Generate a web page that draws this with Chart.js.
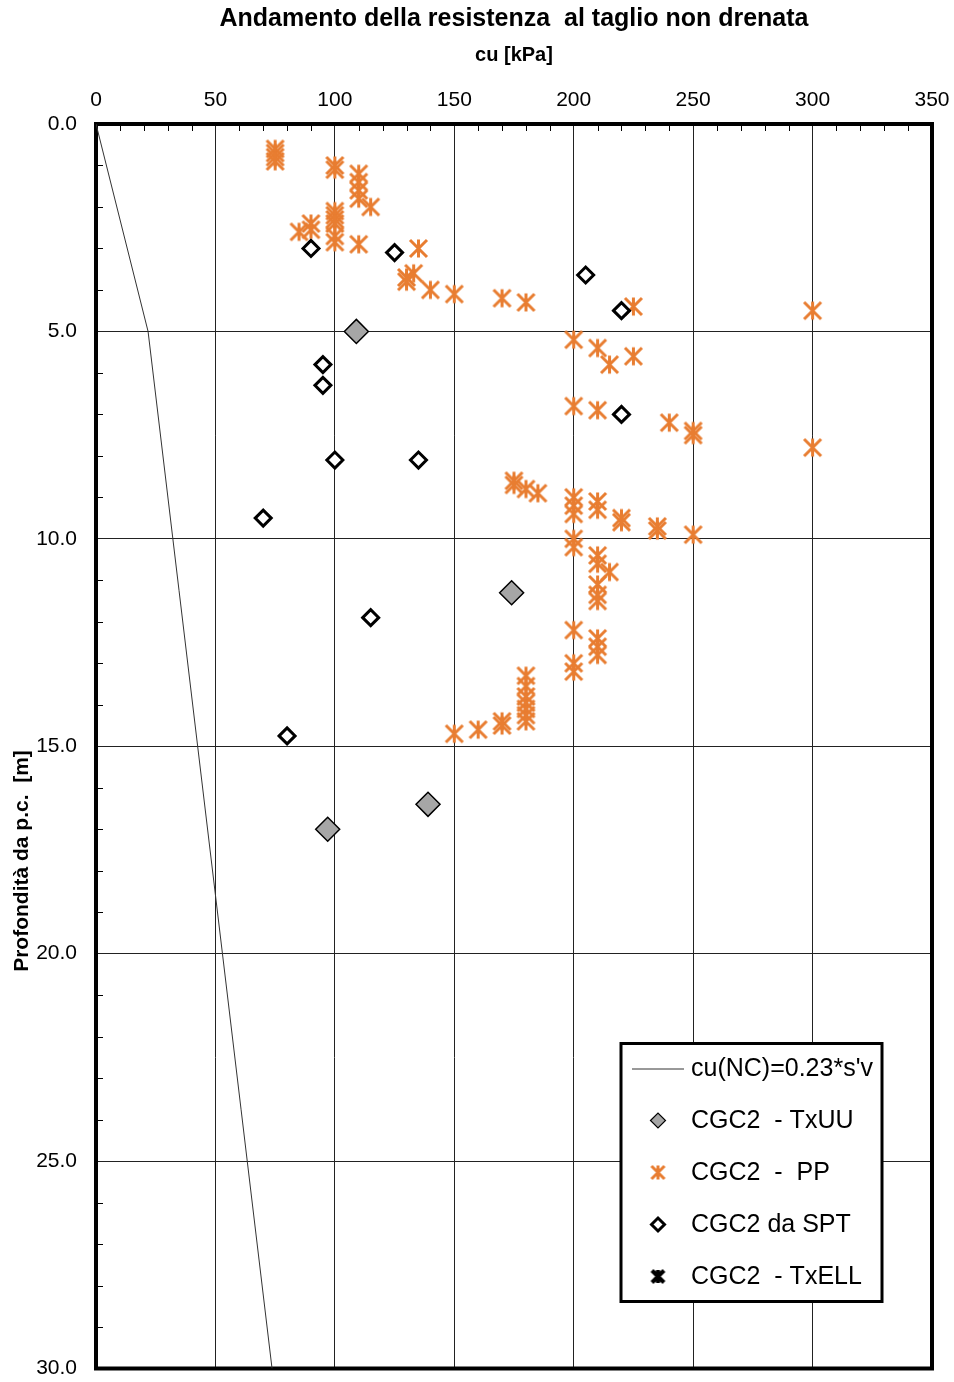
<!DOCTYPE html>
<html lang="it">
<head>
<meta charset="utf-8">
<title>Andamento della resistenza al taglio non drenata</title>
<script src="https://cdn.jsdelivr.net/npm/chart.js@4/dist/chart.umd.min.js"></script>
<style>
  html, body { margin: 0; padding: 0; background: #fff; }
  canvas { display: block; }
</style>
</head>
<body>
<canvas id="cuChart" width="954" height="1382"></canvas>
<script>
// cu(NC) = 0.23 * s'v reference line
const ncCu = [0, 21.8, 73.7];
const ncDepth = [0, 5, 30];

// CGC2 - TxUU
const uuCu = [109, 174, 139, 97];
const uuDepth = [5.0, 11.3, 16.4, 17.0];

// CGC2 - PP (pocket penetrometer)
const ppCu = [
    75, 75, 75, 75, 100, 100, 110, 110, 110, 110, 115,
    100, 100, 100, 100, 90, 90, 85, 100, 100, 110, 135,
    133, 130, 130, 140, 150, 170, 180, 225, 300,
    200, 210, 225, 215, 200, 210, 240, 250, 250, 300,
    175, 175, 180, 185, 200, 200, 200, 210, 210, 220, 220, 235, 235, 250,
    200, 200, 210, 210, 210, 210, 210, 215,
    200, 210, 210, 210, 200, 200,
    180, 180, 180, 180, 180, 180, 180, 170, 170, 160, 150
];
const ppDepth = [
    0.6, 0.7, 0.8, 0.9, 1.0, 1.1, 1.2, 1.4, 1.6, 1.8, 2.0,
    2.1, 2.2, 2.3, 2.4, 2.4, 2.55, 2.6, 2.7, 2.85, 2.9, 3.0,
    3.6, 3.7, 3.8, 4.0, 4.1, 4.2, 4.3, 4.4, 4.5,
    5.2, 5.4, 5.6, 5.8, 6.8, 6.9, 7.2, 7.4, 7.5, 7.8,
    8.6, 8.7, 8.8, 8.9, 9.0, 9.2, 9.4, 9.1, 9.3, 9.5, 9.6, 9.7, 9.8, 9.9,
    10.0, 10.2, 10.4, 10.6, 11.1, 11.35, 11.5, 10.8,
    12.2, 12.4, 12.6, 12.8, 13.0, 13.2,
    13.3, 13.55, 13.8, 13.95, 14.1, 14.25, 14.4, 14.4, 14.5, 14.6, 14.7
];

// CGC2 da SPT
const sptCu = [90, 125, 205, 220, 95, 95, 220, 100, 135, 70, 115, 80];
const sptDepth = [3.0, 3.1, 3.64, 4.5, 5.8, 6.3, 7.0, 8.1, 8.1, 9.5, 11.9, 14.75];

// CGC2 - TxELL (no tests in this profile)
const ellCu = [];
const ellDepth = [];

const cuMax = 350;
const depthMax = 30;

const ORANGE = '#E87D31';
const GREY = '#A6A6A6';
const FONT = '"Liberation Sans", Arial, Helvetica, sans-serif';

function toPoints(xs, ys) {
    return xs.map((v, i) => ({x: v, y: ys[i]}));
}

// six-armed asterisk marker (X plus vertical bar)
function makeAsterisk(size, color, lw) {
    const c = document.createElement('canvas');
    c.width = size;
    c.height = size;
    const g = c.getContext('2d');
    const p = lw / 2 + 0.5;
    const m = size / 2;
    g.strokeStyle = color;
    g.lineWidth = lw;
    g.beginPath();
    g.moveTo(p, p); g.lineTo(size - p, size - p);
    g.moveTo(size - p, p); g.lineTo(p, size - p);
    g.moveTo(m, p - 0.5); g.lineTo(m, size - p + 0.5);
    g.stroke();
    return c;
}

const ppMark = makeAsterisk(21, ORANGE, 3);
const ppLegendMark = makeAsterisk(17, ORANGE, 3);
const ellMark = makeAsterisk(21, '#000', 4);
const ellLegendMark = makeAsterisk(17, '#000', 4);

function drawDiamond(ctx, cx, cy, r, fill, stroke, lw) {
    ctx.beginPath();
    ctx.moveTo(cx - r, cy);
    ctx.lineTo(cx, cy - r);
    ctx.lineTo(cx + r, cy);
    ctx.lineTo(cx, cy + r);
    ctx.closePath();
    ctx.fillStyle = fill;
    ctx.fill();
    ctx.lineWidth = lw;
    ctx.strokeStyle = stroke;
    ctx.stroke();
}

// legend swatches, same order as the datasets
const legendMarks = [
    (ctx, cx, cy) => {
        ctx.beginPath();
        ctx.moveTo(cx - 26, cy + 0.5);
        ctx.lineTo(cx + 26, cy + 0.5);
        ctx.lineWidth = 1;
        ctx.strokeStyle = '#333';
        ctx.stroke();
    },
    (ctx, cx, cy) => drawDiamond(ctx, cx, cy, 7.5, GREY, '#000', 1.2),
    (ctx, cx, cy) => ctx.drawImage(ppLegendMark, cx - 8.5, cy - 8.5),
    (ctx, cx, cy) => drawDiamond(ctx, cx, cy, 6.5, '#fff', '#000', 3),
    (ctx, cx, cy) => ctx.drawImage(ellLegendMark, cx - 8.5, cy - 8.5),
];

const framePlugin = {
    id: 'frame',
    beforeDatasetsDraw(chart) {
        const {ctx, chartArea: a, scales: {x, y}} = chart;
        ctx.save();
        ctx.strokeStyle = '#000';
        ctx.lineWidth = 1;
        ctx.beginPath();
        for (let v = 10; v < cuMax; v += 10) {
            if (v % 50 === 0) continue;
            const px = Math.round(x.getPixelForValue(v)) + 0.5;
            ctx.moveTo(px, a.top);
            ctx.lineTo(px, a.top + 7);
        }
        for (let d = 1; d < depthMax; d++) {
            if (d % 5 === 0) continue;
            const py = Math.round(y.getPixelForValue(d)) + 0.5;
            ctx.moveTo(a.left, py);
            ctx.lineTo(a.left + 7, py);
        }
        ctx.stroke();
        ctx.lineWidth = 4;
        ctx.strokeRect(a.left, a.top, a.right - a.left, a.bottom - a.top);
        ctx.restore();
    },
    afterDraw(chart) {
        const {ctx, chartArea: a} = chart;
        ctx.save();

        // depth axis title, placed lower than the axis centre
        ctx.translate(22, a.top + 737);
        ctx.rotate(-Math.PI / 2);
        ctx.font = 'bold 21px ' + FONT;
        ctx.fillStyle = '#000';
        ctx.textAlign = 'center';
        ctx.textBaseline = 'middle';
        ctx.fillText('Profondità da p.c.  [m]', 0, 0);
        ctx.setTransform(1, 0, 0, 1, 0, 0);

        // legend box in the lower right corner
        const bx = a.right - 311, by = a.bottom - 325, bw = 261, bh = 258;
        ctx.fillStyle = '#fff';
        ctx.fillRect(bx, by, bw, bh);
        ctx.lineWidth = 3;
        ctx.strokeStyle = '#000';
        ctx.strokeRect(bx, by, bw, bh);

        ctx.font = '25px ' + FONT;
        ctx.textAlign = 'left';
        ctx.textBaseline = 'middle';
        chart.data.datasets.forEach((ds, i) => {
            const cy = by + 25 + i * 52;
            legendMarks[i](ctx, bx + 37, cy);
            ctx.fillStyle = '#000';
            ctx.fillText(ds.label, bx + 70, cy + 1);
        });
        ctx.restore();
    }
};

Chart.defaults.font.family = FONT;
Chart.defaults.color = '#000';

new Chart(document.getElementById('cuChart'), {
    type: 'scatter',
    data: {
        datasets: [
            {
                label: "cu(NC)=0.23*s'v",
                data: toPoints(ncCu, ncDepth),
                showLine: true,
                borderColor: '#333',
                borderWidth: 1,
                pointRadius: 0,
                order: 4,
            },
            {
                label: 'CGC2  - TxUU',
                data: toPoints(uuCu, uuDepth),
                pointStyle: 'rectRot',
                pointRadius: 12,
                backgroundColor: GREY,
                borderColor: '#000',
                borderWidth: 1.5,
                order: 2,
            },
            {
                label: 'CGC2  -  PP',
                data: toPoints(ppCu, ppDepth),
                pointStyle: ppMark,
                order: 3,
            },
            {
                label: 'CGC2 da SPT',
                data: toPoints(sptCu, sptDepth),
                pointStyle: 'rectRot',
                pointRadius: 8,
                backgroundColor: '#fff',
                borderColor: '#000',
                borderWidth: 3,
                order: 1,
            },
            {
                label: 'CGC2  - TxELL',
                data: toPoints(ellCu, ellDepth),
                pointStyle: ellMark,
                order: 5,
            },
        ],
    },
    options: {
        responsive: false,
        animation: false,
        events: [],
        layout: {
            padding: {left: 0, right: 22, top: 0, bottom: 13},
        },
        plugins: {
            legend: {display: false},
            tooltip: {enabled: false},
            title: {
                display: true,
                fullSize: false,
                text: 'Andamento della resistenza  al taglio non drenata',
                font: {size: 25, weight: 'bold'},
                color: '#000',
                padding: {top: 4, bottom: 0},
            },
        },
        scales: {
            x: {
                type: 'linear',
                position: 'top',
                min: 0,
                max: cuMax,
                afterFit: (s) => {
                    s.height = 90;
                    s.paddingLeft = 0;
                    s.paddingRight = 0;
                },
                ticks: {
                    stepSize: 50,
                    padding: 11,
                    font: {size: 21},
                    color: '#000',
                    maxRotation: 0,
                },
                grid: {color: '#222', lineWidth: 1, drawTicks: false},
                border: {display: false},
                title: {
                    display: true,
                    text: 'cu [kPa]',
                    font: {size: 20, weight: 'bold'},
                    color: '#000',
                    padding: {top: 9, bottom: 0},
                },
            },
            y: {
                type: 'linear',
                position: 'left',
                reverse: true,
                min: 0,
                max: depthMax,
                afterFit: (s) => {
                    s.width = 96;
                    s.paddingTop = 0;
                    s.paddingBottom = 0;
                },
                ticks: {
                    stepSize: 5,
                    padding: 19,
                    font: {size: 21},
                    color: '#000',
                    callback: (v) => v.toFixed(1),
                },
                grid: {color: '#222', lineWidth: 1, drawTicks: false},
                border: {display: false},
            },
        },
    },
    plugins: [framePlugin],
});
</script>
</body>
</html>
